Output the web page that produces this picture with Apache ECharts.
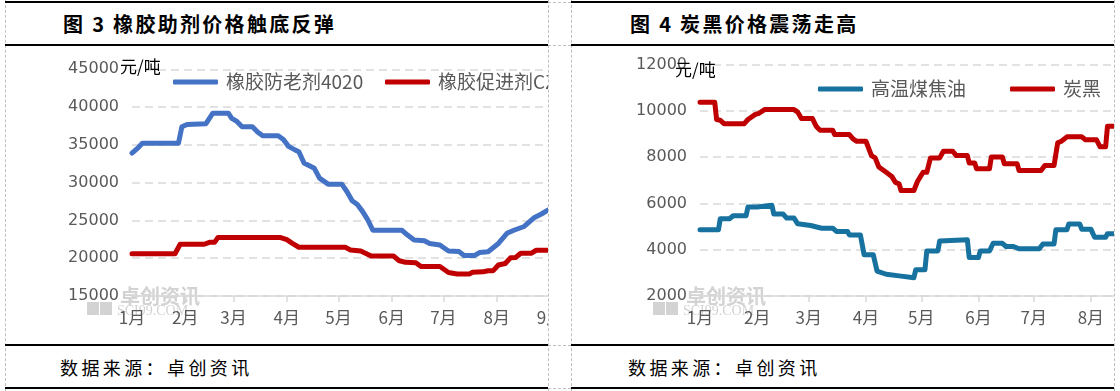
<!DOCTYPE html>
<html>
<head>
<meta charset="utf-8">
<script src="https://cdn.jsdelivr.net/npm/echarts@6/dist/echarts.min.js"></script>
<style>
html,body{margin:0;padding:0;background:#fff;}
#page{position:relative;width:1120px;height:391px;overflow:hidden;background:#fff;font-family:"Noto Sans CJK SC",sans-serif;}
.vd{position:absolute;top:0;height:391px;width:0;border-left:1px dashed #BFBFBF;z-index:5;}
.hs{position:absolute;height:0;border-top:2px solid #000;z-index:5;}
.hd{position:absolute;height:0;border-top:1px dashed #BFBFBF;z-index:5;}
.title{position:absolute;top:10px;font-size:20px;font-weight:bold;letter-spacing:2.3px;line-height:28px;color:#000;white-space:pre;}
.foot{position:absolute;top:355px;font-size:18px;letter-spacing:3.4px;line-height:24px;color:#000;white-space:pre;}
.clip{position:absolute;top:46px;height:298px;width:543px;overflow:hidden;}
.chart{position:absolute;left:0;top:0;width:600px;height:298px;}
</style>
</head>
<body>
<div id="page">
  <div class="vd" style="left:5px"></div>
  <div class="vd" style="left:548px"></div>
  <div class="vd" style="left:571px"></div>
  <div class="vd" style="left:1114px"></div>

  <div class="hs" style="left:5px;width:543px;top:1px"></div>
  <div class="hs" style="left:5px;width:543px;top:44px"></div>
  <div class="hs" style="left:5px;width:543px;top:344px"></div>
  <div class="hs" style="left:5px;width:543px;top:387px"></div>
  <div class="hs" style="left:571px;width:543px;top:1px"></div>
  <div class="hs" style="left:571px;width:543px;top:44px"></div>
  <div class="hs" style="left:571px;width:543px;top:344px"></div>
  <div class="hs" style="left:571px;width:543px;top:387px"></div>
  <div class="hd" style="left:548px;width:23px;top:2px"></div>
  <div class="hd" style="left:548px;width:23px;top:45px"></div>
  <div class="hd" style="left:548px;width:23px;top:345px"></div>
  <div class="hd" style="left:548px;width:23px;top:388px"></div>

  <div class="title" style="left:63px">图 3 橡胶助剂价格触底反弹</div>
  <div class="title" style="left:630px">图 4 炭黑价格震荡走高</div>
  <div class="foot" style="left:60px">数据来源：卓创资讯</div>
  <div class="foot" style="left:628px">数据来源：卓创资讯</div>

  <div class="clip" style="left:5px"><div id="c1" class="chart"></div></div>
  <div class="clip" style="left:571px"><div id="c2" class="chart"></div></div>
</div>
<script>
// ---- shared axis labels ----
const monthLabels = ['1月','2月','3月','4月','5月','6月','7月','8月','9月'];
const monthStartDays = [0,31,59,90,120,151,181,212,243];

// ---- Figure 3: rubber additives (yuan/ton), x = day of year ----
const antioxidant4020Days = [0,3,6,27,29,32,43,47,56,58,61,64,70,73,76,85,88,91,95,97,100,106,109,114,122,125,128,131,134,137,140,157,160,164,170,173,179,184,190,193,199,202,207,213,218,222,228,234,238,242];
const antioxidant4020Vals = [33900,34500,35200,35200,37400,37700,37800,39200,39200,38500,38100,37400,37400,36700,36200,36200,35700,34800,34300,34100,32600,31900,30600,29800,29800,28800,27600,27100,26200,25100,23700,23700,23100,22400,22300,21950,21750,20950,20900,20350,20350,20750,20850,21950,23300,23700,24200,25400,25850,26400];
const acceleratorCZDays = [0,25,28,42,45,48,50,86,90,93,97,124,127,133,139,152,155,159,165,168,179,184,189,196,198,204,207,210,213,217,220,223,226,232,235,243];
const acceleratorCZVals = [20600,20600,21850,21850,22100,22100,22750,22750,22450,22000,21450,21450,21100,20950,20300,20300,19700,19450,19400,18900,18900,18100,17900,17900,18150,18200,18350,18350,19100,19300,20050,20100,20650,20650,21050,21050];

// ---- Figure 4: coal tar & carbon black (yuan/ton) ----
const coalTarDays = [0,10,11,16,18,25,26,31,32,39,40,45,47,51,53,60,66,72,74,80,81,87,89,94,96,101,108,116,117,122,123,129,130,145,146,151,152,157,159,164,166,170,173,184,186,192,193,199,200,206,207,212,214,220,221,225];
const coalTarVals = [4860,4860,5340,5340,5470,5470,5850,5850,5920,5920,5550,5550,5370,5370,5120,5050,4930,4930,4790,4790,4640,4640,3780,3780,3080,2940,2870,2790,3130,3130,3950,3950,4380,4430,3660,3660,3950,3950,4280,4280,4140,4140,4040,4040,4250,4250,4860,4860,5110,5110,4890,4890,4540,4540,4690,4690];
const carbonBlackDays = [0,8,9,11,13,24,26,30,32,35,51,53,55,61,63,65,72,73,81,83,85,90,93,95,97,101,104,106,108,109,116,118,121,123,125,130,132,137,139,145,146,149,150,157,158,164,165,172,173,185,187,192,194,196,199,207,209,215,217,220,221,225];
const carbonBlackVals = [10380,10380,9630,9600,9450,9450,9630,9850,9900,10060,10060,9950,9670,9670,9340,9170,9170,8980,8980,8790,8690,8690,8070,7970,7580,7350,7170,6910,6850,6560,6560,6960,7350,7350,7970,7970,8260,8260,8070,8070,7750,7750,7500,7500,8010,8010,7720,7720,7430,7430,7640,7640,8620,8690,8880,8880,8760,8760,8450,8450,9340,9340];

const seriesNames1 = ['橡胶防老剂4020','橡胶促进剂CZ'];
const seriesNames2 = ['高温煤焦油','炭黑'];
const unitLabel = '元/吨';

function pairs(days, vals){ return days.map((d,i)=>[d, vals[i]]); }

const gridColor = '#D9D9D9';
const labelColor = '#595959';
const cjk = '"Noto Sans CJK SC", sans-serif';

function xAxisCfg(maxDay){
  const ticks = monthStartDays.filter(d => d <= maxDay);
  return {
    type:'value', min:0, max:maxDay,
    axisLine:{show:true, lineStyle:{color:gridColor, width:1.5}},
    axisTick:{show:true, length:6, lineStyle:{color:gridColor, width:1.5}, customValues:ticks},
    axisLabel:{color:labelColor, fontSize:17, fontFamily:cjk, margin:13, customValues:ticks,
      formatter:function(v){ const i = monthStartDays.indexOf(Math.round(v)); return i>=0 ? monthLabels[i] : ''; }},
    splitLine:{show:false}
  };
}
function yAxisCfg(min,max,interval){
  return {
    type:'value', min:min, max:max, interval:interval,
    axisLine:{show:false}, axisTick:{show:false},
    axisLabel:{color:labelColor, fontSize:16, fontFamily:'"DejaVu Sans", sans-serif', margin:13,
      formatter:function(v){ return String(v); }},
    splitLine:{show:true, lineStyle:{color:gridColor, width:1.5, type:[8,5]}}
  };
}
function legendCfg(name, left, top){
  return {
    data:[name], left:left, top:top, padding:0, icon:'roundRect', itemWidth:45, itemHeight:5,
    textStyle:{color:labelColor, fontSize:19, fontFamily:cjk, lineHeight:24, padding:[0,0,0,3]},
    selectedMode:false
  };
}
function watermark(){
  return [
    {type:'rect', left:82, top:256, shape:{width:12, height:13}, style:{fill:'#D3D3D3'}, z:-1, silent:true},
    {type:'rect', left:95, top:256, shape:{width:12, height:13}, style:{fill:'#D3D3D3'}, z:-1, silent:true},
    {type:'text', left:115, top:240, style:{text:'卓创资讯', fill:'#D3D3D3', font:'bold 20px "Noto Sans CJK SC"'}, z:-1, silent:true},
    {type:'text', left:112, top:258, style:{text:'SCI99.COM', fill:'#D3D3D3', font:'14px "Liberation Serif"'}, z:-1, silent:true}
  ];
}
function lineSeries(name, color, data){
  return {
    name:name, type:'line', data:data, showSymbol:false, symbol:'none', color:color,
    itemStyle:{color:color},
    lineStyle:{color:color, width:5, cap:'round', join:'round'},
    z:3
  };
}

const c1 = echarts.init(document.getElementById('c1'), null, {renderer:'canvas'});
c1.setOption({
  animation:false,
  grid:{left:127, top:23.3, width:418, height:226.7},
  xAxis:xAxisCfg(243),
  yAxis:yAxisCfg(15000,45000,5000),
  legend:[legendCfg(seriesNames1[0],168,24), legendCfg(seriesNames1[1],380,24)],
  graphic:watermark().concat([
    {type:'text', left:115, top:12, style:{text:unitLabel, fill:'#000', font:'17px "Noto Sans CJK SC"'}, z:10}
  ]),
  series:[
    lineSeries(seriesNames1[0], '#4472C4', pairs(antioxidant4020Days, antioxidant4020Vals)),
    lineSeries(seriesNames1[1], '#C00000', pairs(acceleratorCZDays, acceleratorCZVals))
  ]
});

const c2 = echarts.init(document.getElementById('c2'), null, {renderer:'canvas'});
c2.setOption({
  animation:false,
  grid:{left:129, top:18.7, width:416.7, height:231.3},
  xAxis:xAxisCfg(226),
  yAxis:yAxisCfg(2000,12000,2000),
  legend:[legendCfg(seriesNames2[0],247,31), legendCfg(seriesNames2[1],439,31)],
  graphic:watermark().concat([
    {type:'text', left:104, top:15, style:{text:unitLabel, fill:'#000', font:'17px "Noto Sans CJK SC"'}, z:10}
  ]),
  series:[
    lineSeries(seriesNames2[0], '#17729F', pairs(coalTarDays, coalTarVals)),
    lineSeries(seriesNames2[1], '#C00000', pairs(carbonBlackDays, carbonBlackVals))
  ]
});
</script>
</body>
</html>
